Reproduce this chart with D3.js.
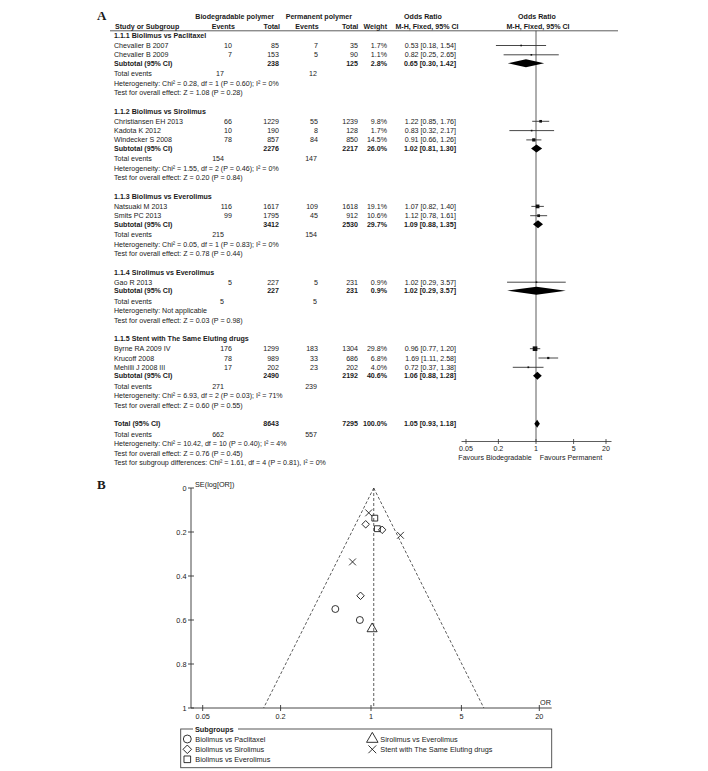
<!DOCTYPE html>
<html>
<head>
<meta charset="utf-8">
<script src="https://cdn.jsdelivr.net/npm/d3@7"></script>
<style>
  body { margin: 0; background: #fff; }
  svg text { font-family: "Liberation Sans", Arial, sans-serif; fill: #1a1a1a; }
</style>
</head>
<body>
<div id="chart"></div>
<script>
// ---- data ----
var groupNames = ["1.1.1 Biolimus vs Paclitaxel", "1.1.2 Biolimus vs Sirolimus", "1.1.3 Biolimus vs Everolimus",
                  "1.1.4 Sirolimus vs Everolimus", "1.1.5 Stent with The Same Eluting drugs"];
var legendNames = ["Biolimus vs Paclitaxel", "Biolimus vs Sirolimus", "Biolimus vs Everolimus",
                   "Sirolimus vs Everolimus", "Stent with The Same Eluting drugs"];

var studies = ["Chevalier B 2007", "Chevalier B 2009", "Christiansen EH 2013", "Kadota K 2012", "Windecker S 2008",
               "Natsuaki M 2013", "Smits PC 2013", "Gao R 2013", "Byrne RA 2009 IV", "Krucoff 2008", "Mehilli J 2008 III"];
var studyGroup = [0, 0, 1, 1, 1, 2, 2, 3, 4, 4, 4];
var bioEvents  = [10, 7, 66, 10, 78, 116, 99, 5, 176, 78, 17];
var bioTotal   = [85, 153, 1229, 190, 857, 1617, 1795, 227, 1299, 989, 202];
var permEvents = [7, 5, 55, 8, 84, 109, 45, 5, 183, 33, 23];
var permTotal  = [35, 90, 1239, 128, 850, 1618, 912, 231, 1304, 686, 202];
var weight     = [1.7, 1.1, 9.8, 1.7, 14.5, 19.1, 10.6, 0.9, 29.8, 6.8, 4.0];
var orVal      = [0.53, 0.82, 1.22, 0.83, 0.91, 1.07, 1.12, 1.02, 0.96, 1.69, 0.72];
var orLo       = [0.18, 0.25, 0.85, 0.32, 0.66, 0.82, 0.78, 0.29, 0.77, 1.11, 0.37];
var orHi       = [1.54, 2.65, 1.76, 2.17, 1.26, 1.40, 1.61, 3.57, 1.20, 2.58, 1.38];
var seLogOr    = [0.55, 0.60, 0.19, 0.49, 0.165, 0.137, 0.185, 0.64, 0.113, 0.215, 0.336];

var subBioEvents  = [17, 154, 215, 5, 271];
var subPermEvents = [12, 147, 154, 5, 239];
var subBioTotal   = [238, 2276, 3412, 227, 2490];
var subPermTotal  = [125, 2217, 2530, 231, 2192];
var subWeight     = [2.8, 26.0, 29.7, 0.9, 40.6];
var subOr         = [0.65, 1.02, 1.09, 1.02, 1.06];
var subLo         = [0.30, 0.81, 0.88, 0.29, 0.88];
var subHi         = [1.42, 1.30, 1.35, 3.57, 1.28];
var subHet = ["Heterogeneity: Chi\u00b2 = 0.28, df = 1 (P = 0.60); I\u00b2 = 0%",
              "Heterogeneity: Chi\u00b2 = 1.55, df = 2 (P = 0.46); I\u00b2 = 0%",
              "Heterogeneity: Chi\u00b2 = 0.05, df = 1 (P = 0.83); I\u00b2 = 0%",
              "Heterogeneity: Not applicable",
              "Heterogeneity: Chi\u00b2 = 6.93, df = 2 (P = 0.03); I\u00b2 = 71%"];
var subTest = ["Test for overall effect: Z = 1.08 (P = 0.28)",
               "Test for overall effect: Z = 0.20 (P = 0.84)",
               "Test for overall effect: Z = 0.78 (P = 0.44)",
               "Test for overall effect: Z = 0.03 (P = 0.98)",
               "Test for overall effect: Z = 0.60 (P = 0.55)"];

var totBioEvents = 662, totPermEvents = 557, totBio = 8643, totPerm = 7295;
var totOr = 1.05, totLo = 0.93, totHi = 1.18;
var totHet = "Heterogeneity: Chi\u00b2 = 10.42, df = 10 (P = 0.40); I\u00b2 = 4%";
var totTest = "Test for overall effect: Z = 0.76 (P = 0.45)";
var totSub = "Test for subgroup differences: Chi\u00b2 = 1.61, df = 4 (P = 0.81), I\u00b2 = 0%";

var forestTicks = [0.05, 0.2, 1, 5, 20];
var funnelXTicks = [0.05, 0.2, 1, 5, 20];
var funnelYTicks = [0, 0.2, 0.4, 0.6, 0.8, 1];

// ---- svg ----
var W = 708, H = 771;
var svg = d3.select('#chart').append('svg').attr('width', W).attr('height', H);
var fs = 7.1;

// row layout for the forest table
var rows = [];
var y = 35.5;
groupNames.forEach(function(g, gi) {
  if (gi > 0) y += 18.5;
  rows.push({type: 'group', g: gi, y: y});
  var first = true;
  studies.forEach(function(s, i) {
    if (studyGroup[i] !== gi) return;
    y += first ? 10 : 9.3; first = false;
    rows.push({type: 'study', i: i, y: y});
  });
  y += 8.5;  rows.push({type: 'sub', g: gi, y: y});
  y += 10.5; rows.push({type: 'te', g: gi, y: y});
  y += 9.5;  rows.push({type: 'het', g: gi, y: y});
  y += 9.5;  rows.push({type: 'test', g: gi, y: y});
});
y += 18.5; rows.push({type: 'total', y: y});
y += 10.5; rows.push({type: 'tte', y: y});
y += 9.5;  rows.push({type: 'thet', y: y});
y += 9.5;  rows.push({type: 'ttest', y: y});
y += 9.5;  rows.push({type: 'tsub', y: y});

var col = {name: 114, bioEv: 232, bioEvT: 224, bioTot: 279, permEv: 318, permEvT: 317, permTot: 358, wt: 387, ci: 456};

function txt(x, yy, s, anchor, bold, size) {
  svg.append('text').attr('x', x).attr('y', yy).attr('text-anchor', anchor || 'start')
    .attr('font-size', size || fs).attr('font-weight', bold ? 'bold' : 'normal').text(s);
}
function ciText(o, l, h) { return o.toFixed(2) + ' [' + l.toFixed(2) + ', ' + h.toFixed(2) + ']'; }

// letters
svg.append('text').attr('x', 97).attr('y', 20).attr('font-weight', 'bold').attr('font-size', 13)
  .style('font-family', 'Liberation Serif, serif').text('A');
svg.append('text').attr('x', 97).attr('y', 489).attr('font-weight', 'bold').attr('font-size', 13)
  .style('font-family', 'Liberation Serif, serif').text('B');

// headers
txt(234.7, 19, 'Biodegradable polymer', 'middle', true);
txt(318.8, 19, 'Permanent polymer', 'middle', true);
txt(423, 19, 'Odds Ratio', 'middle', true);
txt(537, 19, 'Odds Ratio', 'middle', true);
txt(115, 28.5, 'Study or Subgroup', 'start', true);
txt(223.3, 28.5, 'Events', 'middle', true);
txt(280, 28.5, 'Total', 'end', true);
txt(307, 28.5, 'Events', 'middle', true);
txt(358.3, 28.5, 'Total', 'end', true);
txt(387, 28.5, 'Weight', 'end', true);
txt(427, 28.5, 'M-H, Fixed, 95% CI', 'middle', true);
txt(538, 28.5, 'M-H, Fixed, 95% CI', 'middle', true);
svg.append('line').attr('x1', 110).attr('x2', 618).attr('y1', 30.8).attr('y2', 30.8)
  .attr('stroke', '#333').attr('stroke-width', 0.8);

// forest scale
var fx = d3.scaleLog().domain([0.05, 20]).range([466, 606]);
var axisY = 441.5;
svg.append('line').attr('x1', fx(1)).attr('x2', fx(1)).attr('y1', 30.8).attr('y2', axisY)
  .attr('stroke', '#333').attr('stroke-width', 0.8);

var dy = 2.5;
rows.forEach(function(r) {
  var b = r.y + dy;
  if (r.type === 'group') {
    txt(col.name, b, groupNames[r.g], 'start', true);
  } else if (r.type === 'study') {
    var i = r.i;
    txt(col.name, b, studies[i]);
    txt(col.bioEv, b, bioEvents[i], 'end');
    txt(col.bioTot, b, bioTotal[i], 'end');
    txt(col.permEv, b, permEvents[i], 'end');
    txt(col.permTot, b, permTotal[i], 'end');
    txt(col.wt, b, weight[i].toFixed(1) + '%', 'end');
    txt(col.ci, b, ciText(orVal[i], orLo[i], orHi[i]), 'end');
    svg.append('line').attr('x1', fx(orLo[i])).attr('x2', fx(orHi[i])).attr('y1', r.y).attr('y2', r.y)
      .attr('stroke', '#333').attr('stroke-width', 0.9);
    var s = Math.max(1.6, 0.85 * Math.sqrt(weight[i]));
    svg.append('rect').attr('x', fx(orVal[i]) - s / 2).attr('y', r.y - s / 2).attr('width', s).attr('height', s)
      .attr('fill', '#111');
  } else if (r.type === 'sub') {
    var g = r.g;
    txt(col.name, b, 'Subtotal (95% CI)', 'start', true);
    txt(col.bioTot, b, subBioTotal[g], 'end', true);
    txt(col.permTot, b, subPermTotal[g], 'end', true);
    txt(col.wt, b, subWeight[g].toFixed(1) + '%', 'end', true);
    txt(col.ci, b, ciText(subOr[g], subLo[g], subHi[g]), 'end', true);
    diamond(subOr[g], subLo[g], subHi[g], r.y);
  } else if (r.type === 'te') {
    txt(col.name, b, 'Total events');
    txt(col.bioEvT, b, subBioEvents[r.g], 'end');
    txt(col.permEvT, b, subPermEvents[r.g], 'end');
  } else if (r.type === 'het') {
    txt(col.name, b, subHet[r.g]);
  } else if (r.type === 'test') {
    txt(col.name, b, subTest[r.g]);
  } else if (r.type === 'total') {
    txt(col.name, b, 'Total (95% CI)', 'start', true);
    txt(col.bioTot, b, totBio, 'end', true);
    txt(col.permTot, b, totPerm, 'end', true);
    txt(col.wt, b, '100.0%', 'end', true);
    txt(col.ci, b, ciText(totOr, totLo, totHi), 'end', true);
    diamond(totOr, totLo, totHi, r.y);
  } else if (r.type === 'tte') {
    txt(col.name, b, 'Total events');
    txt(col.bioEvT, b, totBioEvents, 'end');
    txt(col.permEvT, b, totPermEvents, 'end');
  } else if (r.type === 'thet') {
    txt(col.name, b, totHet);
  } else if (r.type === 'ttest') {
    txt(col.name, b, totTest);
  } else if (r.type === 'tsub') {
    txt(col.name, b, totSub);
  }
});

function diamond(o, l, h, yy) {
  var hh = 4;
  var pts = [[fx(l), yy], [fx(o), yy - hh], [fx(h), yy], [fx(o), yy + hh]];
  svg.append('path').attr('d', d3.line()(pts) + 'Z').attr('fill', '#000');
}

// forest axis
svg.append('line').attr('x1', 461.5).attr('x2', 611.5).attr('y1', axisY).attr('y2', axisY)
  .attr('stroke', '#333').attr('stroke-width', 0.8);
forestTicks.forEach(function(t) {
  svg.append('line').attr('x1', fx(t)).attr('x2', fx(t)).attr('y1', axisY - 2.5).attr('y2', axisY + 2.5)
    .attr('stroke', '#333').attr('stroke-width', 0.8);
  txt(fx(t), 451, t, 'middle');
});
txt(495, 460, 'Favours Biodegradable', 'middle');
txt(571, 460, 'Favours Permanent', 'middle');

// ---- funnel plot ----
var gx = d3.scaleLog().domain([0.05, 20]).range([202.7, 539.3]);
var gy = d3.scaleLinear().domain([0, 1]).range([488, 708]);
var axX = 191;

svg.append('line').attr('x1', axX).attr('x2', axX).attr('y1', gy(0)).attr('y2', gy(1))
  .attr('stroke', '#333').attr('stroke-width', 0.9);
svg.append('line').attr('x1', axX).attr('x2', 551.7).attr('y1', gy(1)).attr('y2', gy(1))
  .attr('stroke', '#333').attr('stroke-width', 0.9);
funnelYTicks.forEach(function(t) {
  svg.append('line').attr('x1', axX - 3).attr('x2', axX + 3).attr('y1', gy(t)).attr('y2', gy(t))
    .attr('stroke', '#333').attr('stroke-width', 0.9);
  txt(186.5, gy(t) + 2.6, t, 'end', false, 7.3);
});
funnelXTicks.forEach(function(t) {
  svg.append('line').attr('x1', gx(t)).attr('x2', gx(t)).attr('y1', gy(1) - 3).attr('y2', gy(1) + 3)
    .attr('stroke', '#333').attr('stroke-width', 0.9);
  txt(gx(t), 718.5, t, 'middle', false, 7.3);
});
txt(195, 487, 'SE(log[OR])', 'start', false, 7.3);
txt(540, 704.5, 'OR', 'start', false, 7.3);

// pooled line and pseudo 95% limits
var dash = '3,2';
svg.append('line').attr('x1', gx(totOr)).attr('x2', gx(totOr)).attr('y1', gy(0)).attr('y2', gy(1))
  .attr('stroke', '#333').attr('stroke-width', 0.8).attr('stroke-dasharray', dash);
[-1, 1].forEach(function(sgn) {
  svg.append('line').attr('x1', gx(totOr)).attr('y1', gy(0))
    .attr('x2', gx(totOr * Math.exp(sgn * 1.96))).attr('y2', gy(1))
    .attr('stroke', '#333').attr('stroke-width', 0.8).attr('stroke-dasharray', dash);
});

// symbols per subgroup
var symTypes = [d3.symbolCircle, d3.symbolSquare, d3.symbolSquare, d3.symbolTriangle, d3.symbolTimes];
var symSize = [38, 28, 34, 44, 32];
var symRot = [0, 45, 0, 0, 0];
function sym(gi, x, yy, k) {
  svg.append('path').attr('d', d3.symbol().type(symTypes[gi]).size(symSize[gi] * (k || 1))())
    .attr('transform', 'translate(' + x + ',' + yy + ') rotate(' + symRot[gi] + ')')
    .attr('fill', 'none').attr('stroke', '#111').attr('stroke-width', 0.85);
}
studies.forEach(function(s, i) {
  sym(studyGroup[i], gx(orVal[i]), gy(seLogOr[i]));
});

// legend
var lx0 = 180.7, ly0 = 729, lx1 = 551.7, ly1 = 767.7;
svg.append('rect').attr('x', lx0).attr('y', ly0).attr('width', lx1 - lx0).attr('height', ly1 - ly0)
  .attr('fill', 'none').attr('stroke', '#444').attr('stroke-width', 0.9);
svg.append('rect').attr('x', 193).attr('y', ly0 - 4).attr('width', 45).attr('height', 8).attr('fill', '#fff');
txt(195, ly0 + 2.6, 'Subgroups', 'start', true, 7.3);
var legPos = [[187.3, 739], [187.3, 749.3], [187.3, 759.3], [372.3, 739], [372.3, 749.3]];
legendNames.forEach(function(n, gi) {
  sym(gi, legPos[gi][0], legPos[gi][1], 1.3);
  txt(legPos[gi][0] + 8, legPos[gi][1] + 2.6, n, 'start', false, 7.3);
});
</script>
</body>
</html>
